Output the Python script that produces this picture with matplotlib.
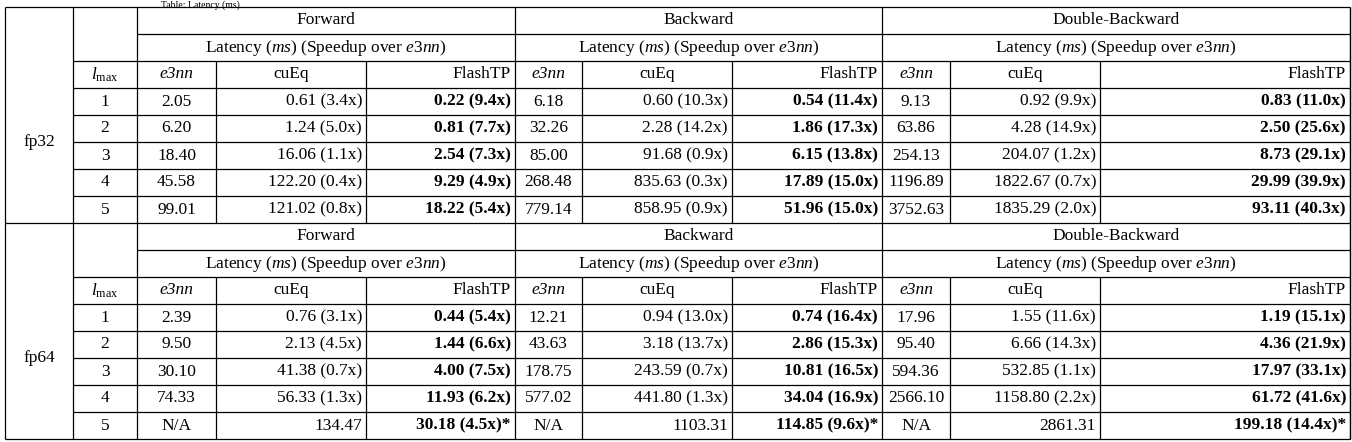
import matplotlib
matplotlib.use("Agg")
import matplotlib.pyplot as plt

plt.rcParams['mathtext.fontset'] = 'custom'
plt.rcParams['mathtext.rm'] = 'Liberation Serif'
plt.rcParams['mathtext.it'] = 'Liberation Serif:italic'
plt.rcParams['mathtext.bf'] = 'Liberation Serif:bold'

groups = ["Forward", "Backward", "Double-Backward"]
precisions = ["fp32", "fp64"]
lmax = ["1", "2", "3", "4", "5"]
fp32_e3nn = [["2.05","6.20","18.40","45.58","99.01"],
             ["6.18","32.26","85.00","268.48","779.14"],
             ["9.13","63.86","254.13","1196.89","3752.63"]]
fp32_cueq = [["0.61 (3.4x)","1.24 (5.0x)","16.06 (1.1x)","122.20 (0.4x)","121.02 (0.8x)"],
             ["0.60 (10.3x)","2.28 (14.2x)","91.68 (0.9x)","835.63 (0.3x)","858.95 (0.9x)"],
             ["0.92 (9.9x)","4.28 (14.9x)","204.07 (1.2x)","1822.67 (0.7x)","1835.29 (2.0x)"]]
fp32_flash = [["0.22 (9.4x)","0.81 (7.7x)","2.54 (7.3x)","9.29 (4.9x)","18.22 (5.4x)"],
              ["0.54 (11.4x)","1.86 (17.3x)","6.15 (13.8x)","17.89 (15.0x)","51.96 (15.0x)"],
              ["0.83 (11.0x)","2.50 (25.6x)","8.73 (29.1x)","29.99 (39.9x)","93.11 (40.3x)"]]
fp64_e3nn = [["2.39","9.50","30.10","74.33","N/A"],
             ["12.21","43.63","178.75","577.02","N/A"],
             ["17.96","95.40","594.36","2566.10","N/A"]]
fp64_cueq = [["0.76 (3.1x)","2.13 (4.5x)","41.38 (0.7x)","56.33 (1.3x)","134.47"],
             ["0.94 (13.0x)","3.18 (13.7x)","243.59 (0.7x)","441.80 (1.3x)","1103.31"],
             ["1.55 (11.6x)","6.66 (14.3x)","532.85 (1.1x)","1158.80 (2.2x)","2861.31"]]
fp64_flash = [["0.44 (5.4x)","1.44 (6.6x)","4.00 (7.5x)","11.93 (6.2x)","30.18 (4.5x)*"],
              ["0.74 (16.4x)","2.86 (15.3x)","10.81 (16.5x)","34.04 (16.9x)","114.85 (9.6x)*"],
              ["1.19 (15.1x)","4.36 (21.9x)","17.97 (33.1x)","61.72 (41.6x)","199.18 (14.4x)*"]]
data = {"fp32": (fp32_e3nn, fp32_cueq, fp32_flash), "fp64": (fp64_e3nn, fp64_cueq, fp64_flash)}

W, H = 1352, 442
fig = plt.figure(figsize=(W/100, H/100), dpi=100)
ax = fig.add_axes([0, 0, 1, 1])
ax.set_xlim(0, W); ax.set_ylim(H, 0); ax.axis('off')

FS = 12.5
FONT = 'Liberation Serif'
lw = 0.9
def line(x0, x1, y0, y1):
    ax.plot([x0, x1], [y0, y1], color='black', lw=lw, solid_capstyle='butt')
def txt(x, y, s, ha='center', bold=False, italic=False):
    ax.text(x, y, s, ha=ha, va='center', fontsize=FS, family=FONT,
            fontweight='bold' if bold else 'normal',
            fontstyle='italic' if italic else 'normal')

ax.text(200, 0, "Table: Latency (ms)", ha='center', va='top', fontsize=7, family=FONT)

xL, xP, xG = 5, 73, 137
gx = [[137, 216, 366, 515], [515, 582, 732, 882], [882, 950, 1100, 1350]]
xR = 1350
top, rh = 7, 27.0
pad = 4

for si, prec in enumerate(precisions):
    y0 = top + si * 8 * rh
    yb = y0 + 8 * rh
    line(xL, xR, y0, y0)
    for x in [xL, xP, xG, xR]:
        line(x, x, y0, yb)
    line(xG, xR, y0 + rh, y0 + rh)
    line(xP, xR, y0 + 2*rh, y0 + 2*rh)
    for r in range(3, 8):
        line(xP, xR, y0 + r*rh, y0 + r*rh)
    txt((xL+xP)/2, y0 + 5*rh, prec)
    txt((xP+xG)/2, y0 + 2.5*rh, r'$l_{\rm max}$')
    for r, l in enumerate(lmax):
        txt((xP+xG)/2, y0 + (3.5+r)*rh, l)
    e3, cu, fl = data[prec]
    for g, name in enumerate(groups):
        a, b, c, d = gx[g]
        line(d, d, y0, yb)
        line(b, b, y0 + 2*rh, yb)
        line(c, c, y0 + 2*rh, yb)
        txt((a+d)/2, y0 + 0.5*rh, name)
        txt((a+d)/2, y0 + 1.5*rh, r'Latency ($\mathit{ms}$) (Speedup over $\mathit{e3nn}$)')
        txt((a+b)/2, y0 + 2.5*rh, 'e3nn', italic=True)
        txt((b+c)/2, y0 + 2.5*rh, 'cuEq')
        txt(d - pad, y0 + 2.5*rh, 'FlashTP', ha='right')
        for r in range(5):
            yy = y0 + (3.5+r)*rh
            txt((a+b)/2, yy, e3[g][r])
            txt(c - pad, yy, cu[g][r], ha='right')
            txt(d - pad, yy, fl[g][r], ha='right', bold=True)
line(xL, xR, top + 16*rh, top + 16*rh)

fig.savefig("out.png", dpi=100)
